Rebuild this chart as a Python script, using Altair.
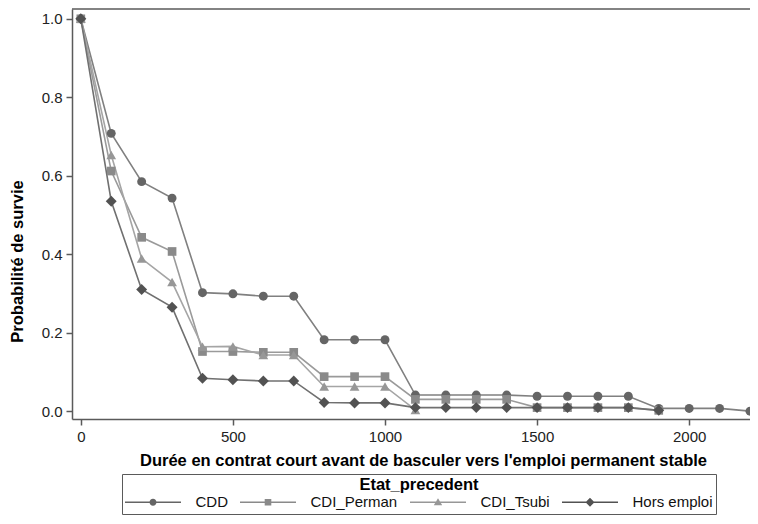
import altair as alt
import pandas as pd

# ---- data ----
durations = [0, 100, 200, 300, 400, 500, 600, 700, 800, 900, 1000, 1100,
             1200, 1300, 1400, 1500, 1600, 1700, 1800, 1900, 2000, 2100, 2200]
series = ["CDD", "CDI_Perman", "CDI_Tsubi", "Hors emploi"]
cdd = [1.0, 0.708, 0.585, 0.543, 0.302, 0.299, 0.293, 0.293, 0.182, 0.182, 0.182, 0.041,
       0.041, 0.041, 0.041, 0.038, 0.038, 0.038, 0.038, 0.007, 0.007, 0.007, 0.0]
cdi_perman = [1.0, 0.612, 0.443, 0.407, 0.152, 0.152, 0.150, 0.150, 0.088, 0.088, 0.088, 0.030,
              0.030, 0.030, 0.030, 0.009, 0.009, 0.009, 0.009, 0.002]
cdi_tsubi = [1.0, 0.653, 0.389, 0.329, 0.164, 0.165, 0.143, 0.143, 0.063, 0.063, 0.063, 0.003]
hors_emploi = [1.0, 0.535, 0.310, 0.265, 0.084, 0.080, 0.077, 0.077, 0.022, 0.021, 0.021, 0.009,
               0.009, 0.009, 0.009, 0.009, 0.009, 0.009, 0.009, 0.002]

x_ticks = [0, 500, 1000, 1500, 2000]
y_ticks = [0.0, 0.2, 0.4, 0.6, 0.8, 1.0]

rows = []
for name, vals in zip(series, [cdd, cdi_perman, cdi_tsubi, hors_emploi]):
    for t, v in zip(durations, vals):
        rows.append({"t": t, "p": v, "serie": name})
df = pd.DataFrame(rows)

# ---- styles ----
FONT = "Liberation Sans"
FRAME = "#5a5a5a"
marker_shapes = ["circle", "square", "triangle-up", "diamond"]
marker_sizes = [80, 75, 95, 120]
marker_colors = ["#656565", "#8a8a8a", "#979797", "#525252"]
line_colors = ["#808080", "#9a9a9a", "#a5a5a5", "#707070"]

seg = "M-28,-0.7L-2,-0.7L-2,0.7L-28,0.7ZM2,-0.7L28,-0.7L28,0.7L2,0.7Z"
legend_paths = [
    seg + "M-3.5,0A3.5,3.5 0 1,1 3.5,0A3.5,3.5 0 1,1 -3.5,0Z",
    seg + "M-3.3,-3.3L3.3,-3.3L3.3,3.3L-3.3,3.3Z",
    seg + "M0,-4L4.2,3L-4.2,3Z",
    seg + "M0,-4.5L4.5,0L0,4.5L-4.5,0Z",
]

W, H = 678, 410

x_enc = alt.X("t:Q",
              scale=alt.Scale(domain=[-29, 2200], nice=False, zero=False),
              axis=alt.Axis(values=x_ticks, grid=False, format="d", labelFlush=False,
                            title="Durée en contrat court avant de basculer vers l'emploi permanent stable",
                            titleX=351, titleY=41, titleBaseline="middle"))
y_enc = alt.Y("p:Q",
              scale=alt.Scale(domain=[-0.02, 1.025], nice=False, zero=False),
              axis=alt.Axis(values=y_ticks, grid=False, format=".1f",
                            title="Probabilité de survie",
                            titleX=-55, titleY=252, titleAngle=270, titleBaseline="middle"))

base = alt.Chart(df)

lines = base.mark_line(strokeWidth=1.6).encode(
    x=x_enc, y=y_enc,
    stroke=alt.Stroke("serie:N", scale=alt.Scale(domain=series, range=line_colors), legend=None),
)

markers = []
for name, shp, sz, col in zip(series, marker_shapes, marker_sizes, marker_colors):
    markers.append(
        base.transform_filter(alt.datum.serie == name)
        .mark_point(shape=shp, size=sz, filled=True, opacity=1, color=col)
        .encode(x=x_enc, y=y_enc)
    )

leg = alt.Legend(
    title="Etat_precedent", orient="none", legendX=50, legendY=465,
    direction="horizontal", titleAnchor="middle",
    symbolSize=4, symbolOffset=20.5, labelOffset=35, columnPadding=12,
    padding=3, titlePadding=1, strokeColor=FRAME,
    labelFontSize=15, titleFontSize=16.5, titleFontWeight="bold",
    symbolStrokeWidth=0, symbolOpacity=1,
    labelColor="#111111", titleColor="#000000",
)
# invisible points that only carry the legend (line + marker glyphs)
legend_layer = base.mark_point(filled=True, opacity=0).encode(
    x=x_enc, y=y_enc,
    fill=alt.Fill("serie:N", scale=alt.Scale(domain=series, range=marker_colors), legend=leg),
    shape=alt.Shape("serie:N", scale=alt.Scale(domain=series, range=legend_paths), legend=leg),
)

top_frame = alt.Chart(alt.Data(values=[{"k": 1}])).mark_rule(
    color=FRAME, strokeWidth=1.5
).encode(x=alt.value(0), x2=alt.value(W), y=alt.value(0))

chart = alt.layer(legend_layer, lines, *markers, top_frame).properties(
    width=W, height=H,
    autosize=alt.AutoSizeParams(type="none"),
    padding={"left": 64, "top": 1, "right": 0, "bottom": 97},
).configure(font=FONT).configure_view(stroke=None).configure_axis(
    domainColor=FRAME, domainWidth=1.5, tickColor=FRAME, tickWidth=1.5, tickSize=6,
    labelPadding=4, labelFontSize=15, labelColor="#222222", labelFont=FONT,
    titleFontSize=16.5, titleFontWeight="bold", titleColor="#000000", titleFont=FONT,
).configure_legend(labelFont=FONT, titleFont=FONT)

chart.save("out.html", embed_options={"renderer": "svg", "actions": False})
